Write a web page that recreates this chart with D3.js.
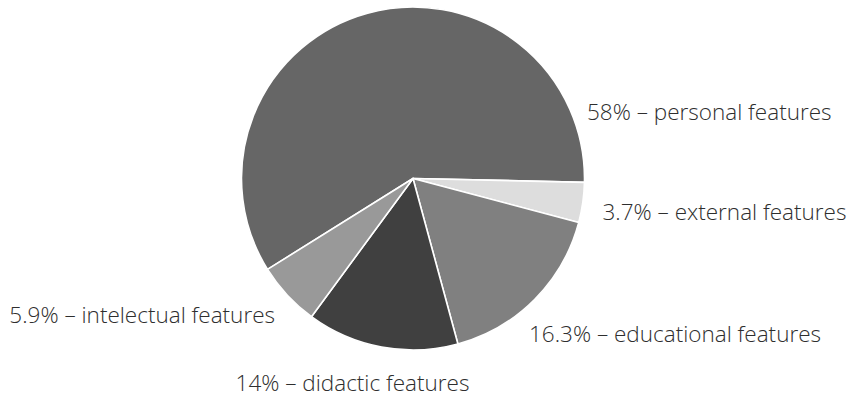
<!DOCTYPE html>
<html>
<head>
<meta charset="utf-8">
<script src="https://cdn.jsdelivr.net/npm/d3@7"></script>
<style>
  html, body { margin: 0; padding: 0; background: #fff; }
  svg { display: block; }
  .label { font-family: "Open Sans", sans-serif; font-weight: 300; font-size: 22.5px; fill: #2e2e2e; }
</style>
</head>
<body>
<svg id="chart" width="850" height="397"></svg>
<script>
// Features of a teacher, share of answers (%)
const categories = ["personal features", "external features", "educational features", "didactic features", "intelectual features"];
const values = [58, 3.7, 16.3, 14, 5.9];
const valueLabels = ["58%", "3.7%", "16.3%", "14%", "5.9%"];
const colors = ["#666666", "#dddddd", "#808080", "#404040", "#999999"];

const width = 850, height = 397;
const cx = 413, cy = 178.5, radius = 171.5;

// Label anchors relative to the pie centre: [dx, dy, text-anchor]
const labelLayout = [
  [174, -58.5, "start"],
  [189.5, 41.5, "start"],
  [116, 163, "start"],
  [-60.5, 212.5, "middle"],
  [-138, 144.5, "end"]
];

const svg = d3.select("#chart");
const g = svg.append("g").attr("transform", `translate(${cx},${cy})`);

const data = categories.map((c, i) => ({ name: c, value: values[i], label: valueLabels[i], color: colors[i], pos: labelLayout[i] }));

const startDeg = -122;
const pie = d3.pie()
  .value(d => d.value)
  .sort(null)
  .startAngle(startDeg * Math.PI / 180)
  .endAngle((startDeg + 360) * Math.PI / 180);

const arc = d3.arc().innerRadius(0).outerRadius(radius);

g.selectAll("path.slice")
  .data(pie(data))
  .join("path")
  .attr("class", "slice")
  .attr("d", arc)
  .attr("fill", d => d.data.color)
  .attr("stroke", "#fff")
  .attr("stroke-width", 1.6)
  .attr("stroke-linejoin", "round");

g.selectAll("text.label")
  .data(data)
  .join("text")
  .attr("class", "label")
  .attr("x", d => d.pos[0])
  .attr("y", d => d.pos[1])
  .attr("text-anchor", d => d.pos[2])
  .text(d => `${d.label} – ${d.name}`);
</script>
</body>
</html>
